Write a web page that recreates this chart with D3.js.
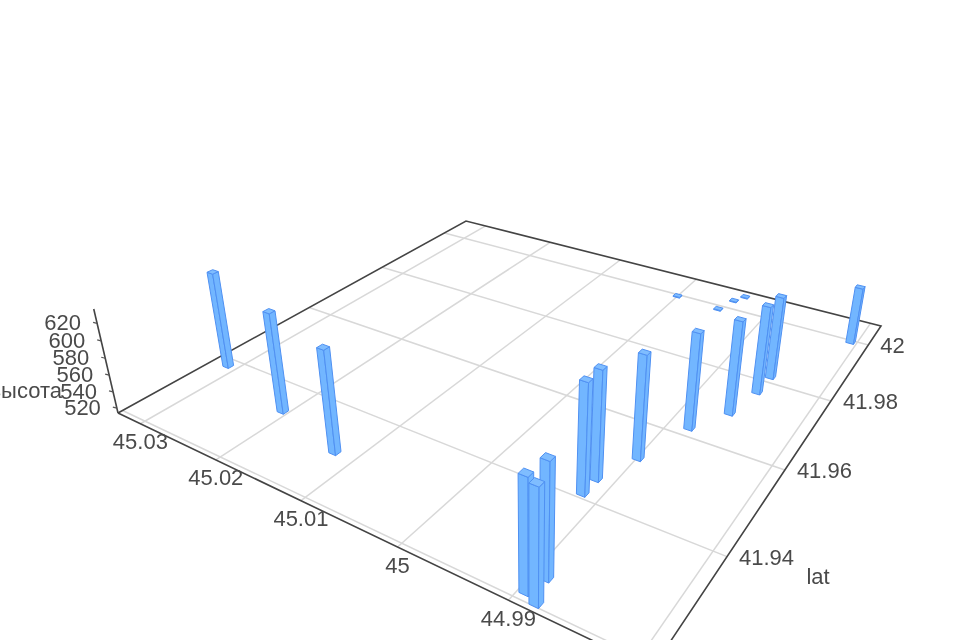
<!DOCTYPE html><html><head><meta charset="utf-8"><style>
html,body{margin:0;background:#fff;overflow:hidden}
svg{display:block;filter:blur(0.7px)}
text{font-family:"Liberation Sans",Arial,sans-serif;fill:#4a4a4a;font-size:22px}
</style></head><body><svg id="c" width="960" height="640"></svg>
<script src="https://cdn.jsdelivr.net/npm/d3@7"></script>
<script>
// --- data ---
const barLon=[45.0311,45.0206,45.0122,44.9894,44.9882,44.9889,44.9915,44.9915,44.9899,44.9881,44.9860,44.9852,44.9851,44.9806,45.0000,44.9949,44.9942,44.9935];
const barLat=[41.9382,41.9336,41.9302,41.9222,41.9213,41.9253,41.9410,41.9446,41.9517,41.9621,41.9688,41.9764,41.9817,41.9994,41.9994,41.9986,42.0031,42.0056];
const barHeight=[631,631.5,631.7,631.5,632.4,634.5,636,635.4,631.5,625.4,623.8,618.4,613.2,585.3,515,515,515,515];
const lonTicks=[45.03,45.02,45.01,45,44.99,44.98];
const lonLabels=["45.03","45.02","45.01","45","44.99"];
const latTicks=[42,41.98,41.96,41.94,41.9208];
const latLabels=["42","41.98","41.96","41.94"];
const zTicks=[520,540,560,580,600,620];
const lonDomain=[45.0332,44.9789], latDomain=[42.0077,41.92], zDomain=[514,636];
const barSizeLon=0.00078, barSizeLat=0.0011;

// --- camera ---
const floorCorners=[[466,221],[881,326],[652,669],[118,413]];
const vanish=[530,2180], riseK=104/1871;
const [[x0,y0],[x1,y1],[x2,y2],[x3,y3]]=floorCorners;
const dx1=x1-x2,dx2=x3-x2,sx=x0-x1+x2-x3,dy1=y1-y2,dy2=y3-y2,sy=y0-y1+y2-y3,den=dx1*dy2-dx2*dy1;
const g=(sx*dy2-dx2*sy)/den,h=(dx1*sy-sx*dy1)/den;
const M={a:x1-x0+g*x1,b:x3-x0+h*x3,d:y1-y0+g*y1,e:y3-y0+h*y3};
const cz=-riseK*(1+h);
const U=d3.scaleLinear().domain(lonDomain).range([0,1]);
const V=d3.scaleLinear().domain(latDomain).range([0,1]);
const W=d3.scaleLinear().domain(zDomain).range([0,1]);
function proj(lon,lat,z){
  const u=U(lon),v=V(lat),w=W(z===undefined?zDomain[0]:z);
  const q=1+g*u+h*v+cz*w;
  return [(M.a*u+M.b*v+x0+cz*w*vanish[0])/q,(M.d*u+M.e*v+y0+cz*w*vanish[1])/q];
}
const svg=d3.select("#c"), line=d3.line();
// grid
const gridG=svg.append("g").attr("fill","none").attr("stroke","#d8d8d8").attr("stroke-width",1.5);
lonTicks.forEach(t=>gridG.append("path").attr("d",line([proj(t,latDomain[0]),proj(t,latDomain[1])])));
latTicks.forEach(t=>gridG.append("path").attr("d",line([proj(lonDomain[0],t),proj(lonDomain[1],t)])));
// axes
const [la,lb]=lonDomain,[pa,pb]=latDomain;
svg.append("path").attr("fill","none").attr("stroke","#444").attr("stroke-width",1.6)
 .attr("d",line([proj(la,pb),proj(la,pa),proj(lb,pa),proj(lb,pb),proj(la,pb)]));
svg.append("path").attr("fill","none").attr("stroke","#444").attr("stroke-width",1.6)
 .attr("d",line([proj(la,pb,zDomain[0]),proj(la,pb,zDomain[1])]));
// z ticks
zTicks.forEach(t=>{const p=proj(la,pb,t);
 svg.append("path").attr("stroke","#555").attr("stroke-width",1.2).attr("d",line([p,[p[0]-4,p[1]-1]]));
 svg.append("text").attr("x",p[0]-16).attr("y",p[1]-0.5).attr("text-anchor","end").attr("dominant-baseline","central").text(t);});
lonLabels.forEach((l,i)=>{const p=proj(lonTicks[i],pb);
 svg.append("text").attr("x",p[0]).attr("y",p[1]+18).attr("text-anchor","middle").attr("dominant-baseline","central").text(l);});
latLabels.forEach((l,i)=>{const p=proj(lb,latTicks[i]);
 svg.append("text").attr("x",p[0]+12).attr("y",p[1]+0.5).attr("dominant-baseline","central").text(l);});
svg.append("text").attr("x",818).attr("y",576).attr("text-anchor","middle").attr("dominant-baseline","central").text("lat");
svg.append("text").attr("x",62).attr("y",390).attr("text-anchor","end").attr("dominant-baseline","central").text("высота");
// bars
const rows=barLon.map((lon,i)=>({lon,lat:barLat[i],z:barHeight[i]}))
 .sort((a,b)=>(U(a.lon)+V(a.lat))-(U(b.lon)+V(b.lat)));
const barG=svg.append("g").attr("stroke","#4f90f2").attr("stroke-width",1).attr("stroke-linejoin","round").attr("fill","#72b6ff");
rows.forEach(r=>{
 const a=r.lon+barSizeLon/2,b=r.lon-barSizeLon/2,c=r.lat+barSizeLat/2,d=r.lat-barSizeLat/2,z0=zDomain[0];
 const face=(pts)=>barG.append("path").attr("d",line(pts)+"Z");
 face([proj(a,d,z0),proj(b,d,z0),proj(b,d,r.z),proj(a,d,r.z)]);
 face([proj(b,c,z0),proj(b,d,z0),proj(b,d,r.z),proj(b,c,r.z)]);
 face([proj(a,d,r.z),proj(b,d,r.z),proj(b,c,r.z),proj(a,c,r.z)]).attr("fill","#7fbdff");
});
</script></body></html>
